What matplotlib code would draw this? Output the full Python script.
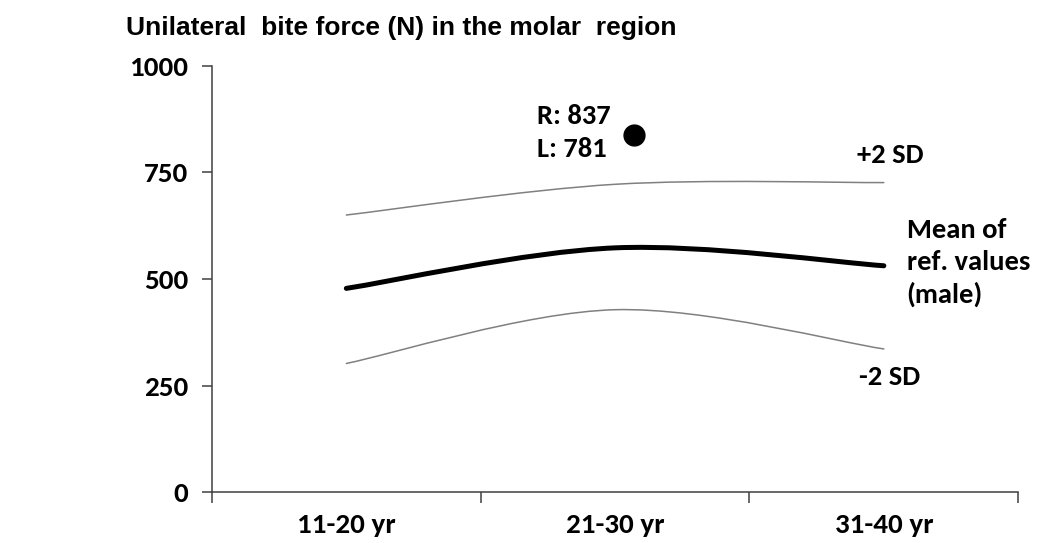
import matplotlib
matplotlib.use('Agg')
import matplotlib.pyplot as plt
from matplotlib.path import Path
from matplotlib.patches import PathPatch
import numpy as np

age_groups = ['11-20 yr', '21-30 yr', '31-40 yr']
mean_ref = [478, 573, 531]
plus_2sd = [650, 722, 726]
minus_2sd = [302, 428, 336]
patient_right = 837
patient_left = 781
patient_pos = 1.07

arial = ['Liberation Sans', 'DejaVu Sans']
calibri = ['Carlito', 'DejaVu Sans']


def smooth_path(xs, ys):
    # excel style smoothed line: cubic bezier with catmull-rom control points
    pts = np.column_stack([xs, ys]).astype(float)
    n = len(pts)
    verts = [pts[0]]
    codes = [Path.MOVETO]
    for i in range(n - 1):
        p0 = pts[i - 1] if i > 0 else pts[i]
        p1 = pts[i]
        p2 = pts[i + 1]
        p3 = pts[i + 2] if i + 2 < n else pts[i + 1]
        verts += [p1 + (p2 - p0) / 6, p2 - (p3 - p1) / 6, p2]
        codes += [Path.CURVE4] * 3
    return Path(verts, codes)


fig = plt.figure(figsize=(10.39, 5.43), dpi=100)
ax = fig.add_axes([0.204, 0.0934, 0.776, 0.7856])

x = np.arange(len(age_groups))
for ys, lw, col in [(plus_2sd, 1.1, '#808080'), (minus_2sd, 1.1, '#808080'), (mean_ref, 3.6, 'black')]:
    ax.add_patch(PathPatch(smooth_path(x, ys), facecolor='none', edgecolor=col,
                           lw=lw, capstyle='round'))

ax.plot([patient_pos], [patient_right], 'o', color='black', markersize=15)
ax.text(0.71, 882, f'R: {patient_right}', ha='left', va='center',
        fontsize=20.5, fontweight='bold', family=calibri)
ax.text(0.71, 805, f'L: {patient_left}', ha='left', va='center',
        fontsize=20.5, fontweight='bold', family=calibri)

ax.text(2.023, 791, '+2 SD', ha='center', va='center', fontsize=20.5, fontweight='bold', family=calibri)
ax.text(2.023, 271, '-2 SD', ha='center', va='center', fontsize=20.5, fontweight='bold', family=calibri)
ax.text(2.085, 538, 'Mean of\nref. values\n(male)', ha='left', va='center', fontsize=20.5,
        fontweight='bold', family=calibri, linespacing=1.38)

ax.set_xlim(-0.5, 2.5)
ax.set_ylim(0, 1000)
ax.set_yticks([0, 250, 500, 750, 1000])
ax.set_xticks([-0.5, 0.5, 1.5, 2.5])
ax.set_xticklabels([])
ax.set_xticks(x, minor=True)
ax.set_xticklabels(age_groups, minor=True, fontsize=21, fontweight='bold', family=calibri)
ax.tick_params(axis='x', which='minor', length=0, pad=15)
ax.tick_params(axis='x', which='major', length=8, width=1.1, color='#404040', direction='out')
ax.tick_params(axis='y', length=7, width=1.1, color='#404040', pad=10)
for lab in ax.get_yticklabels():
    lab.set_fontsize(21)
    lab.set_fontweight('bold')
    lab.set_family(calibri)

for s in ['top', 'right']:
    ax.spines[s].set_visible(False)
for s in ['left', 'bottom']:
    ax.spines[s].set_color('#404040')
    ax.spines[s].set_linewidth(1.1)

fig.text(0.121, 0.948, 'Unilateral  bite force (N) in the molar  region', fontsize=19,
         fontweight='bold', family=arial, ha='left', va='center')

fig.savefig('out.png', dpi=100)
